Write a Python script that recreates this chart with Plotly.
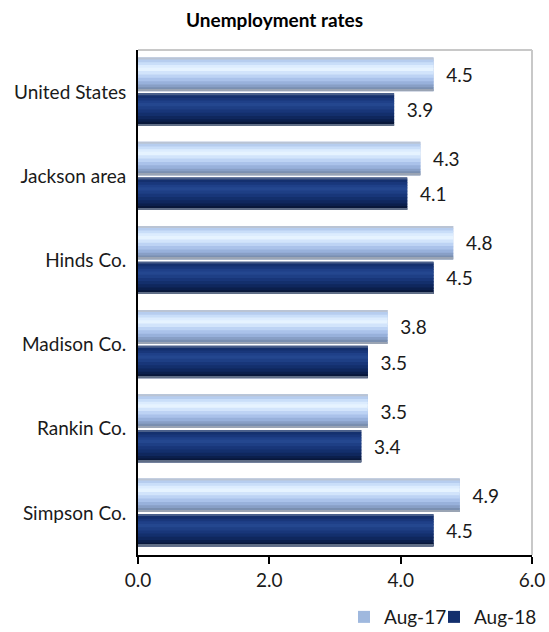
import plotly.graph_objects as go

# data
regions = ["United States", "Jackson area", "Hinds Co.", "Madison Co.", "Rankin Co.", "Simpson Co."]
aug17 = [4.5, 4.3, 4.8, 3.8, 3.5, 4.9]
aug18 = [3.9, 4.1, 4.5, 3.5, 3.4, 4.5]
x_ticks = [0, 2, 4, 6]

FONT = "Lato, Calibri, 'Open Sans', sans-serif"

# bevel look: horizontal stripes (fraction of bar thickness, colour), top to bottom
stripes17 = [(0.00, 0.06, "#bac4d4"), (0.06, 0.14, "#b6cdef"), (0.14, 0.22, "#c9def9"),
             (0.22, 0.30, "#dcecfe"), (0.30, 0.40, "#e6f3ff"), (0.40, 0.50, "#d2e4fb"),
             (0.50, 0.60, "#bdd3f4"), (0.60, 0.70, "#aac2ea"), (0.70, 0.80, "#98b1db"),
             (0.80, 0.88, "#889fc6"), (0.88, 0.95, "#7a8fb0"), (0.95, 1.00, "#9aa4b4")]
stripes18 = [(0.00, 0.06, "#4a5f8a"), (0.06, 0.14, "#14306e"), (0.14, 0.22, "#19377b"),
             (0.22, 0.30, "#1f4088"), (0.30, 0.40, "#24478f"), (0.40, 0.50, "#1e3f85"),
             (0.50, 0.60, "#183679"), (0.60, 0.70, "#132f6c"), (0.70, 0.80, "#0f275d"),
             (0.80, 0.88, "#0b1f4c"), (0.88, 0.95, "#08173a"), (0.95, 1.00, "#5f6d86")]

fig = go.Figure()


def add_series(name, values, offset, width, base_color, stripes, legend):
    # base bar carries the legend entry and the value label
    fig.add_trace(go.Bar(
        y=regions, x=values, name=name, orientation="h", legend=legend,
        offset=offset, width=width,
        marker=dict(color=base_color, line=dict(width=0)),
        texttemplate="  %{x:.1f}", textposition="outside",
        textfont=dict(family=FONT, size=19, color="#1a1a1a"),
        constraintext="none", cliponaxis=False, hoverinfo="skip"))
    # stripes overlap a little so no seams show between them
    for f0, f1, col in stripes:
        f1 = min(f1 + 0.04, 1.0)
        fig.add_trace(go.Bar(
            y=regions, x=values, orientation="h", showlegend=False,
            offset=offset + f0 * width, width=(f1 - f0) * width,
            marker=dict(color=col, line=dict(width=0)), hoverinfo="skip"))


add_series("Aug-17", aug17, -0.41, 0.40, "#9fb8de", stripes17, "legend")
add_series("Aug-18", aug18, 0.015, 0.385, "#132f6d", stripes18, "legend2")

# light grey frame on top and right of plot area
fig.add_shape(type="line", xref="paper", yref="paper", x0=0, y0=1, x1=1, y1=1,
              line=dict(color="#c8c8c8", width=2))
fig.add_shape(type="line", xref="paper", yref="paper", x0=1, y0=0, x1=1, y1=1,
              line=dict(color="#c8c8c8", width=2))

# legends placed in container coords so they don't push the margins
legend_style = dict(orientation="h", xref="container", yref="container", xanchor="left",
                    y=0.0237, yanchor="middle", font=dict(size=19), itemwidth=30,
                    bgcolor="rgba(0,0,0,0)")

fig.update_layout(
    width=549, height=632,
    margin=dict(l=138, r=17, t=50, b=77, autoexpand=False),
    paper_bgcolor="white", plot_bgcolor="white",
    barmode="overlay",
    font=dict(family=FONT, size=19, color="#1a1a1a"),
    title=dict(text="<b>Unemployment rates</b>", x=0.5, xref="container", xanchor="center",
               y=0.968, yanchor="middle", font=dict(family=FONT, size=19, color="black")),
    xaxis=dict(range=[0, 6], tickvals=x_ticks, tickformat=".1f", showgrid=False, zeroline=False,
               showline=True, linecolor="black", linewidth=2, ticks="outside", ticklen=7,
               tickcolor="black", tickwidth=2, tickfont=dict(size=19), automargin=False),
    yaxis=dict(categoryorder="array", categoryarray=regions, range=[5.5, -0.5],
               showgrid=False, zeroline=False, showline=True, linecolor="black", linewidth=2,
               ticks="", ticklabelstandoff=6, tickfont=dict(size=19), automargin=False),
    legend=dict(x=0.6266, **legend_style),
    legend2=dict(x=0.7905, **legend_style),
    showlegend=True,
)

# drop the page's default body margin so the figure fills the window exactly
fig.write_html("out.html", config={"displayModeBar": False},
               post_script="document.body.style.margin='0';"
                           "document.body.style.overflow='hidden';")
